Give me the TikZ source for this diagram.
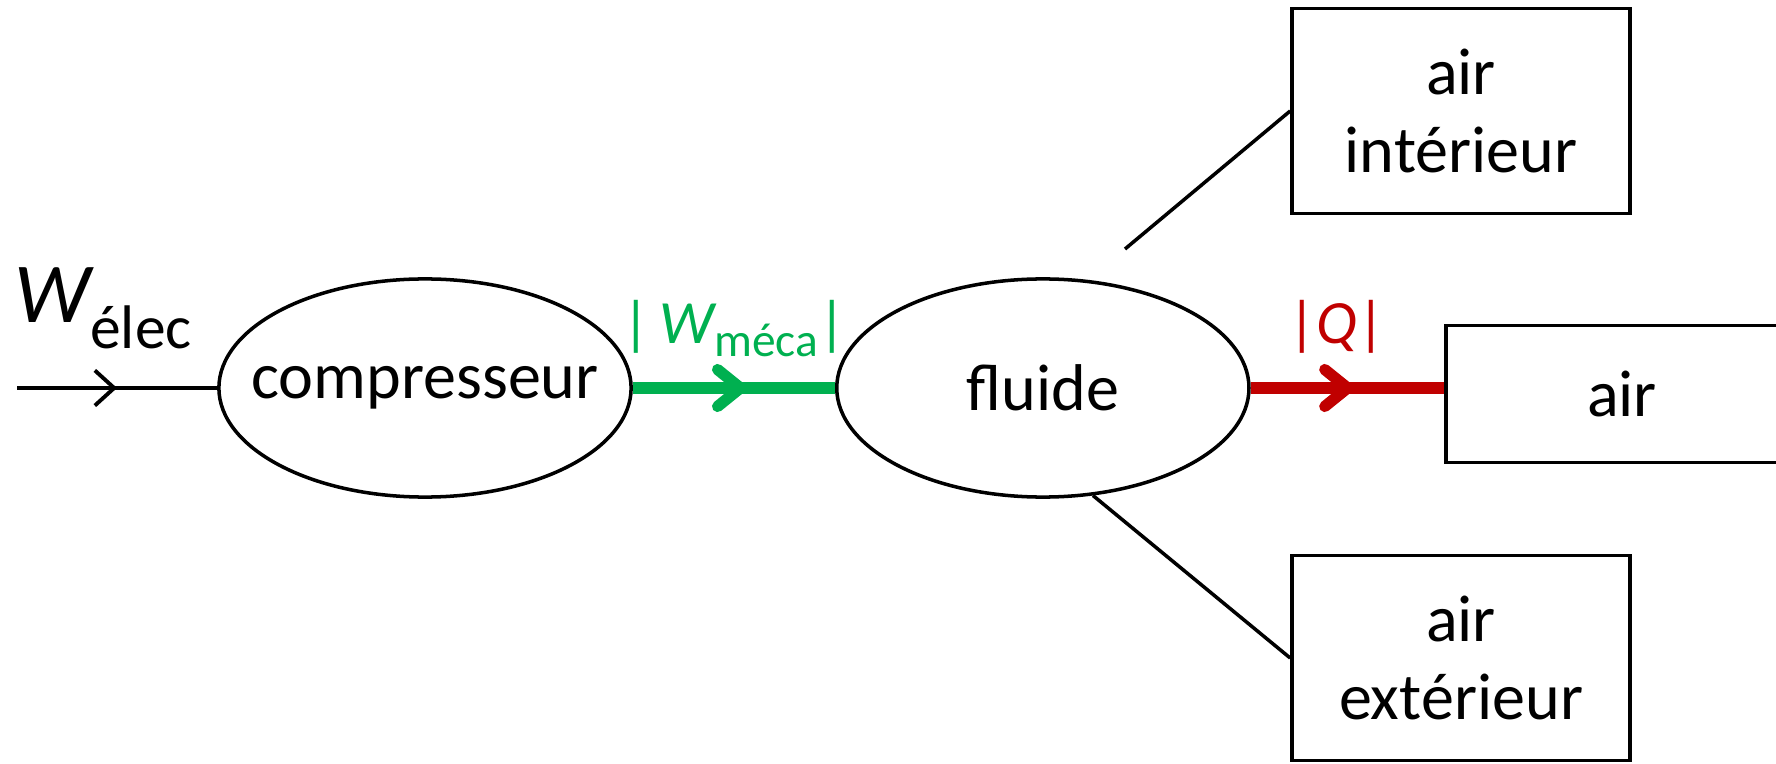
\documentclass[tikz,border=0pt]{standalone}
\usepackage{fontspec}
\setmainfont{Carlito}
\usepackage{xcolor}
\usetikzlibrary{arrows.meta,positioning,shapes.geometric,decorations.markings}
\definecolor{vert}{RGB}{0,176,80}
\definecolor{rouge}{RGB}{192,0,0}

\begin{document}
\begin{tikzpicture}[x=0.01cm,y=-0.01cm,line width=1pt,
  every node/.style={font=\fontsize{18.8}{22}\selectfont},
  proc/.style={ellipse,draw,minimum width=4.12cm,minimum height=2.18cm,inner sep=0pt},
  milieu/.style={rectangle,draw,minimum width=3.38cm,minimum height=2.05cm,align=center},
  flux/.style={line width=3.2pt},
  etiq/.style={anchor=base,font=\fontsize{17}{17}\selectfont},
  fleche/.style={postaction={decorate},decoration={markings,
    mark=at position #1 with {\arrow{Straight Barb[length=6.5pt,width=10.5pt,round]}}}},
  fin/.style={postaction={decorate},decoration={markings,
    mark=at position #1 with {\arrow{Straight Barb[length=5.5pt,width=10pt]}}}}]
  \useasboundingbox (0,0) rectangle (1776,764);
  \clip (0,0) rectangle (1776,764);

  \node[proc,inner xsep=-0.33cm] (comp) at (425,388) {compresseur};
  \node[proc]   (fluide) [right=2.02cm of comp] {fluide};
  \node[milieu] (int)    at (1461,111)       {air\\intérieur};
  \node[milieu] (ext)    at (1461,658)       {air\\extérieur};
  \node[milieu,minimum width=3.52cm,minimum height=1.37cm] (air) at (1622,394) {air};

  \coordinate (entree) at (17,388);
  \coordinate (haut)   at (1125,249);

  \path (entree) edge [line width=1.1pt,fin=0.5] node [etiq,yshift=18.7pt,xshift=-4pt] {{\fontsize{24.3}{24}\selectfont\itshape W}\raisebox{-7.4pt}{\fontsize{17.5}{17.5}\selectfont élec}} (comp)
        (comp)   edge [vert,flux,fleche=0.56] node [etiq,yshift=12.7pt] {|\,{\fontsize{17.5}{17.5}\selectfont\itshape W}\raisebox{-0.45ex}{\fontsize{13.5}{13.5}\selectfont méca}|} (fluide)
        (haut)   edge (int.west)
        (fluide.-65) edge (ext.west);
  \path (fluide.east) edge [rouge,flux,fleche=0.53] node [etiq,yshift=12.7pt,xshift=-3pt] {|{\fontsize{17.5}{17.5}\selectfont\itshape Q}|} (fluide.east -| air.west);
\end{tikzpicture}
\end{document}
